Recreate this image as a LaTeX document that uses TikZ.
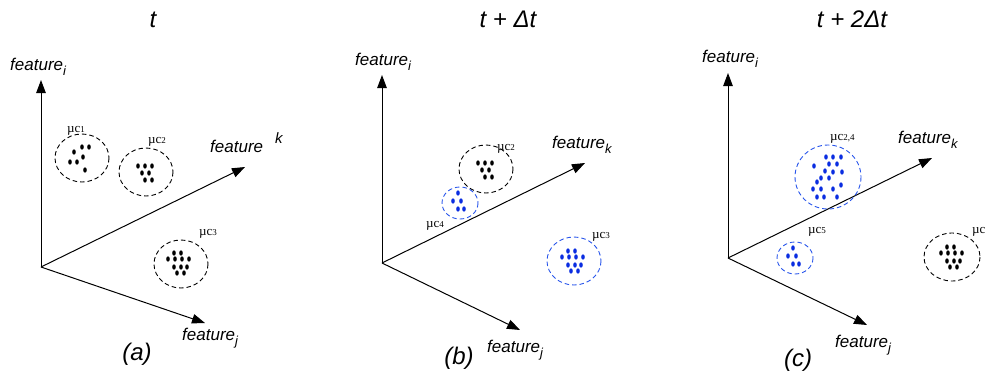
\documentclass[tikz,border=0pt]{standalone}
\usepackage{fontspec}
\setmainfont{Liberation Serif}
\setsansfont{Liberation Sans}
\usetikzlibrary{arrows.meta}
\definecolor{cblue}{RGB}{40,85,235}
\definecolor{dblue}{RGB}{10,45,225}
\tikzset{
  axis/.style={line width=1pt, -{Triangle[length=13pt,width=9.5pt]}},
  clus/.style={dash pattern=on 4.5pt off 3pt, line width=0.9pt},
  lab/.style={font=\fontsize{17}{17}\selectfont\sffamily\itshape, anchor=base west, inner sep=0pt},
  ttl/.style={font=\fontsize{24}{24}\selectfont\sffamily\itshape, anchor=base, inner sep=0pt},
  mulab/.style={font=\fontsize{13}{13}\selectfont\rmfamily, anchor=base west, inner sep=0pt},
}
\newcommand{\lsub}[1]{{\fontsize{13}{13}\selectfont\raisebox{-5pt}{#1}}}
\newcommand{\mud}[1]{{\fontsize{9}{9}\selectfont #1}}
\def\pOne{-8/-6,0/-11,7/-11,-12/4,-5/4,1/-1,3/12}
\def\pTwo{-8/-6,-1/-6,6/-6,-4/1,3/1,-1/8,6/8}
\def\pThree{-7/-11,0/-11,-13/-5,-6/-5,1/-5,8/-5,-7/3,0/3,6/3,-4/9,3/9}
\def\pFour{-2/-10,-7/-2,1/-2,-2/6,4/6}
\def\pTF{-2/-20,5/-20,13/-20,1/-13,9/-13,-14/-11,-3/-6,5/-5,14/-5,-7/1,1/1,-11/5,13/8,-15/12,-7/12,5/12,-11/20,-4/20,9/20}
\newcommand{\dotgrp}[3]{\begin{scope}[shift={#1}]\foreach \x/\y in #2 {\fill[#3] (\x,\y) ellipse [x radius=1.8pt, y radius=2.7pt];}\end{scope}}
\begin{document}
\begin{tikzpicture}[x=1pt,y=-1pt]
\useasboundingbox (0,0) rectangle (985,378);
% ---------- panel (a)
\coordinate (Oa) at (41,267);
\coordinate (Ia) at (41,80);
\coordinate (Ka) at (245,167);
\coordinate (Ja) at (205,323);
\draw[axis] (Oa) -- (Ia);
\draw[axis] (Oa) -- (Ka);
\draw[axis] (Oa) -- (Ja);
\node[ttl] (ta) at (153,27) {t};
\node[lab] (fia) at (10,70) {feature\lsub{i}};
\node[lab] (fka) at (210,152) {feature\hspace{12pt}\raisebox{9pt}{\fontsize{15}{15}\selectfont k}};
\node[lab] (fja) at (182,340) {feature\lsub{j}};
\node[ttl] (cap-a) at (137,360) {(a)};
\draw[clus] (82,158) ellipse [x radius=27, y radius=24];
\draw[clus] (146,172) ellipse [x radius=27, y radius=24];
\draw[clus] (181,264) ellipse [x radius=27, y radius=24];
\dotgrp{(82,158)}{\pOne}{black}
\dotgrp{(146,172)}{\pTwo}{black}
\dotgrp{(181,264)}{\pThree}{black}
\node[mulab] (m1a) at (67,132) {µc\mud{1}};
\node[mulab] (m2a) at (148,143) {µc\mud{2}};
\node[mulab] (m3a) at (199,235) {µc\mud{3}};
% ---------- panel (b)
\coordinate (Ob) at (382,263);
\coordinate (Ib) at (382,75);
\coordinate (Kb) at (585,163);
\coordinate (Jb) at (520,330);
\draw[axis] (Ob) -- (Ib);
\draw[axis] (Ob) -- (Kb);
\draw[axis] (Ob) -- (Jb);
\node[ttl] (tb) at (508,27) {t + Δt};
\node[lab] (fib) at (355,65) {feature\lsub{i}};
\node[lab] (fkb) at (552,148) {feature\lsub{k}};
\node[lab] (fjb) at (487,352) {feature\lsub{j}};
\node[ttl] (cap-b) at (459,364) {(b)};
\draw[clus] (486,169) ellipse [x radius=27, y radius=24];
\draw[clus, cblue] (460,203) ellipse [x radius=18, y radius=16];
\draw[clus, cblue] (574,261) ellipse [x radius=27, y radius=24];
\dotgrp{(486,169)}{\pTwo}{black}
\dotgrp{(460,203)}{\pFour}{dblue}
\dotgrp{(575,262)}{\pThree}{dblue}
\node[mulab] (m2b) at (497,150) {µc\mud{2}};
\node[mulab] (m4b) at (426,227) {µc\mud{4}};
\node[mulab] (m3b) at (592,238) {µc\mud{3}};
% ---------- panel (c)
\coordinate (Oc) at (728,258);
\coordinate (Ic) at (728,73);
\coordinate (Kc) at (932,158);
\coordinate (Jc) at (867,325);
\draw[axis] (Oc) -- (Ic);
\draw[axis] (Oc) -- (Kc);
\draw[axis] (Oc) -- (Jc);
\node[ttl] (tc) at (852,27) {t + 2Δt};
\node[lab] (fic) at (702,62) {feature\lsub{i}};
\node[lab] (fkc) at (898,143) {feature\lsub{k}};
\node[lab] (fjc) at (835,347) {feature\lsub{j}};
\node[ttl] (cap-c) at (798,366) {(c)};
\draw[clus, cblue] (828,177) ellipse [x radius=33, y radius=32];
\draw[clus, cblue] (795,258) ellipse [x radius=18, y radius=16];
\draw[clus] (952,257) ellipse [x radius=28, y radius=24];
\dotgrp{(828,177)}{\pTF}{dblue}
\dotgrp{(795,258)}{\pFour}{dblue}
\dotgrp{(954,258)}{\pThree}{black}
\node[mulab] (m24c) at (830,140) {µc\mud{2,4}};
\node[mulab] (m5c) at (808,233) {µc\mud{5}};
\node[mulab] (mc) at (972,233) {µc};
\end{tikzpicture}
\end{document}
